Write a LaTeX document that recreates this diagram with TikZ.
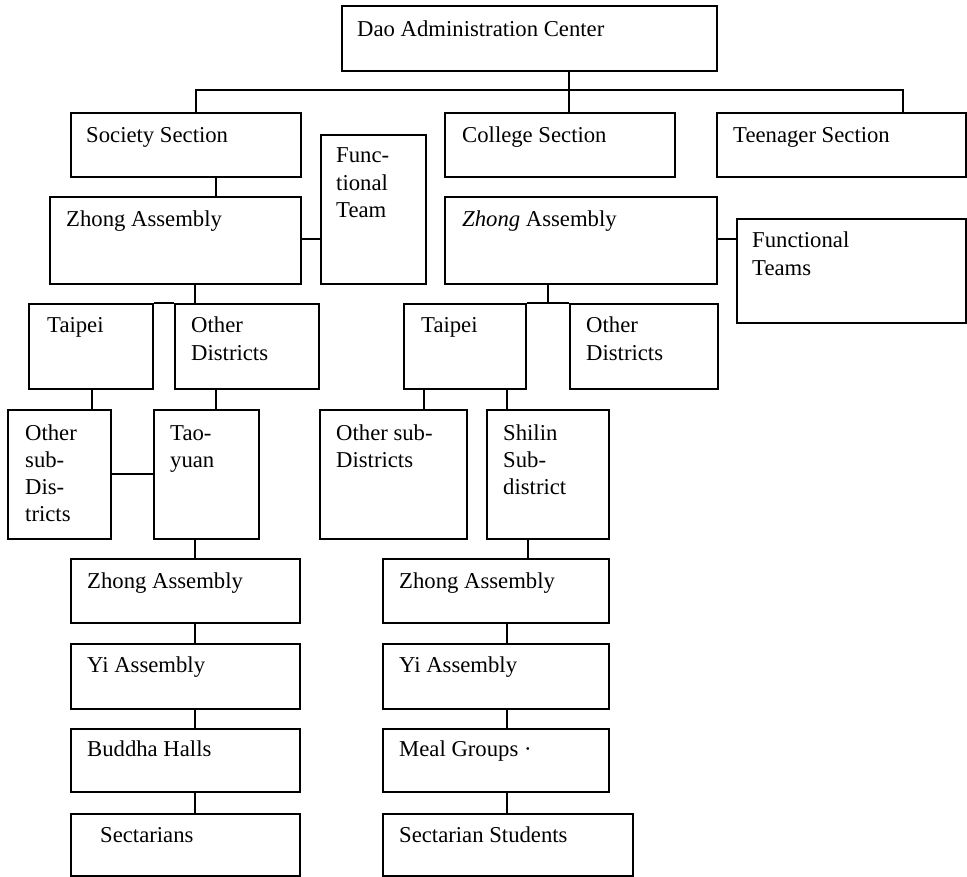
\documentclass[tikz,border=0pt]{standalone}
\usepackage{fontspec}
\setmainfont{Liberation Serif}
\usetikzlibrary{calc}
\newcommand{\mystack}[1]{\vtop{\halign{##\hfil\cr#1\crcr}}}
\begin{document}
\begin{tikzpicture}[x=1pt,y=-1pt,
  box/.style={draw=black,line width=2.2pt,rectangle,inner sep=0pt,anchor=north west},
  txt/.style={anchor=base west,inner sep=0pt,
    font=\fontsize{22.7}{27.3}\selectfont},
  conn/.style={draw=black,line width=2.2pt}]
\useasboundingbox (0,0) rectangle (967,877);
% boxes: x1,y1 and size
\node[box,minimum width=375,minimum height=65] (dao) at (341,5) {};
\node[box,minimum width=230,minimum height=64] (soc) at (70,112) {};
\node[box,minimum width=230,minimum height=64] (col) at (444,112) {};
\node[box,minimum width=249,minimum height=64] (teen) at (716,112) {};
\node[box,minimum width=105,minimum height=149] (ftl) at (320,134) {};
\node[box,minimum width=251,minimum height=87] (zl) at (49,196) {};
\node[box,minimum width=272,minimum height=87] (zr) at (444,196) {};
\node[box,minimum width=229,minimum height=104] (ftr) at (736,218) {};
\node[box,minimum width=124,minimum height=85] (tpl) at (28,303) {};
\node[box,minimum width=144,minimum height=85] (odl) at (174,303) {};
\node[box,minimum width=122,minimum height=85] (tpr) at (403,303) {};
\node[box,minimum width=148,minimum height=85] (odr) at (569,303) {};
\node[box,minimum width=103,minimum height=129] (osl) at (7,409) {};
\node[box,minimum width=105,minimum height=129] (tao) at (153,409) {};
\node[box,minimum width=147,minimum height=129] (osr) at (319,409) {};
\node[box,minimum width=122,minimum height=129] (shl) at (486,409) {};
\node[box,minimum width=229,minimum height=64] (zl2) at (70,558) {};
\node[box,minimum width=226,minimum height=64] (zr2) at (382,558) {};
\node[box,minimum width=229,minimum height=65] (yil) at (70,643) {};
\node[box,minimum width=226,minimum height=65] (yir) at (382,643) {};
\node[box,minimum width=229,minimum height=63] (bud) at (70,728) {};
\node[box,minimum width=226,minimum height=63] (meal) at (382,728) {};
\node[box,minimum width=229,minimum height=62] (sect) at (70,813) {};
\node[box,minimum width=250,minimum height=62] (sst) at (382,813) {};
% texts
\node[txt] (daot) at (357,37) {Dao Administration Center};
\node[txt] (soct) at (86,143) {Society Section};
\node[txt] (colt) at (462,143) {College Section};
\node[txt] (teent) at (733,143) {Teenager Section};
\node[txt] (ftlt) at (336,163) {\mystack{Func-\cr tional\cr Team}};
\node[txt] (zlt) at (66,227) {Zhong Assembly};
\node[txt] (zrt) at (462,227) {\textit{Zhong} Assembly};
\node[txt] (ftrt) at (752,248) {\mystack{Functional\cr Teams}};
\node[txt] (tplt) at (47,333) {Taipei};
\node[txt] (odlt) at (191,333) {\mystack{Other\cr Districts}};
\node[txt] (tprt) at (421,333) {Taipei};
\node[txt] (odrt) at (586,333) {\mystack{Other\cr Districts}};
\node[txt] (oslt) at (25,440) {\mystack{Other\cr sub-\cr Dis-\cr tricts}};
\node[txt] (taot) at (170,440) {\mystack{Tao-\cr yuan}};
\node[txt] (osrt) at (336,440) {\mystack{Other sub-\cr Districts}};
\node[txt] (shlt) at (503,440) {\mystack{Shilin\cr Sub-\cr district}};
\node[txt] (zl2t) at (87,588) {Zhong Assembly};
\node[txt] (zr2t) at (399,588) {Zhong Assembly};
\node[txt] (yilt) at (87,672) {Yi Assembly};
\node[txt] (yirt) at (399,672) {Yi Assembly};
\node[txt] (budt) at (87,756) {Buddha Halls};
\node[txt] (mealt) at (399,756) {Meal Groups ·};
\node[txt] (sectt) at (100,842) {Sectarians};
\node[txt] (sstt) at (399,842) {Sectarian Students};
% connector coordinates
\coordinate (busL) at (196,90);
\coordinate (busC) at (569,90);
\coordinate (busR) at (903,90);
\draw[conn] (busC |- dao.south) -- (busC |- col.north);
\draw[conn] (busL |- soc.north) -- (busL) -- (busR) -- (busR |- teen.north);
\draw[conn] (216,0 |- soc.south) -- (216,0 |- zl.north);
\draw[conn] (zl.east |- 0,239) -- (ftl.west |- 0,239);
\draw[conn] (zr.east |- 0,239) -- (ftr.west |- 0,239);
\draw[conn] (195,0 |- zl.south) -- (195,0 |- odl.north);
\draw[conn] (tpl.north east) -- (odl.north west);
\draw[conn] (548,0 |- zr.south) -- (548,0 |- tpr.north);
\draw[conn] (tpr.north east) -- (odr.north west);
\draw[conn] (92,0 |- tpl.south) -- (92,0 |- osl.north);
\draw[conn] (216,0 |- odl.south) -- (216,0 |- tao.north);
\draw[conn] (osl.east |- 0,474) -- (tao.west |- 0,474);
\draw[conn] (424,0 |- tpr.south) -- (424,0 |- osr.north);
\draw[conn] (507,0 |- tpr.south) -- (507,0 |- shl.north);
\draw[conn] (195,0 |- tao.south) -- (195,0 |- zl2.north);
\draw[conn] (528,0 |- shl.south) -- (528,0 |- zr2.north);
\draw[conn] (195,0 |- zl2.south) -- (195,0 |- yil.north);
\draw[conn] (195,0 |- yil.south) -- (195,0 |- bud.north);
\draw[conn] (195,0 |- bud.south) -- (195,0 |- sect.north);
\draw[conn] (507,0 |- zr2.south) -- (507,0 |- yir.north);
\draw[conn] (507,0 |- yir.south) -- (507,0 |- meal.north);
\draw[conn] (507,0 |- meal.south) -- (507,0 |- sst.north);
\end{tikzpicture}
\end{document}
